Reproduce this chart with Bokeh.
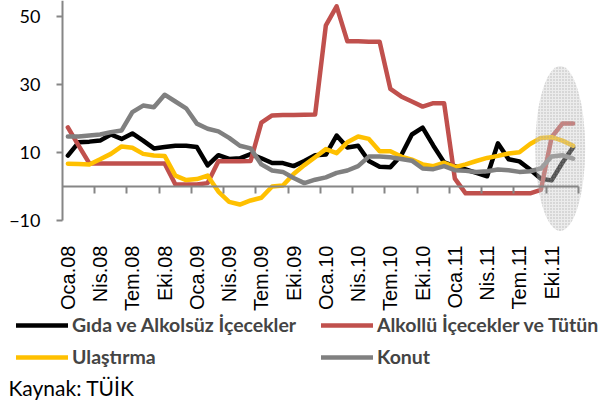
import math
from bokeh.plotting import figure
from bokeh.models import (Range1d, LinearAxis, FixedTicker, Legend, LegendItem,
                          Label, CustomJSTickFormatter)
from bokeh.embed import file_html
from bokeh.resources import INLINE

# ---- data -----------------------------------------------------------------
month_names = ["Oca", "Şub", "Mar", "Nis", "May", "Haz",
               "Tem", "Ağu", "Eyl", "Eki", "Kas", "Ara"]
years = ["08", "09", "10", "11"]
months = [f"{m}.{y}" for y in years for m in month_names]
tick_labels = ["Oca.08", "Nis.08", "Tem.08", "Eki.08", "Oca.09", "Nis.09",
               "Tem.09", "Eki.09", "Oca.10", "Nis.10", "Tem.10", "Eki.10",
               "Oca.11", "Nis.11", "Tem.11", "Eki.11"]

gida = [9.1, 13.0, 13.2, 13.5, 15.3, 14.0, 15.6, 13.5, 11.2, 11.6, 12.0, 12.0,
        11.6, 6.2, 9.2, 8.1, 8.3, 9.5, 8.3, 6.9, 6.9, 6.0, 7.5, 9.2,
        9.4, 15.0, 11.5, 12.0, 7.5, 5.8, 5.7, 9.1, 15.3, 17.3, 12.0, 7.1,
        6.0, 5.0, 4.0, 3.0, 12.7, 8.0, 7.4, 5.0, 2.3, 1.8, 7.0, 11.5]
alkol = [17.4, 12.0, 6.8, 6.8, 6.8, 6.8, 6.8, 6.8, 6.8, 6.8, 0.6, 0.6,
         0.6, 1.0, 7.4, 7.4, 7.4, 7.5, 18.8, 20.9, 21.0, 21.0, 21.1, 21.2,
         47.4, 53.0, 42.7, 42.7, 42.6, 42.6, 28.7, 26.5, 25.0, 23.5, 24.5, 24.5,
         2.3, -2.0, -2.0, -2.0, -2.0, -2.0, -2.0, -2.0, -1.0, 14.5, 18.5, 18.5]
ulastirma = [6.7, 6.6, 6.5, 8.0, 9.6, 11.8, 11.4, 9.6, 9.1, 9.0, 3.2, 1.9,
             2.2, 3.2, -1.5, -4.5, -5.3, -4.1, -3.3, 0.0, 0.3, 3.7, 6.3, 8.6,
             11.0, 9.8, 13.0, 14.7, 14.0, 10.4, 10.4, 8.8, 7.9, 6.5, 6.0, 7.0,
             5.7, 6.5, 7.5, 8.4, 9.0, 9.7, 10.1, 12.5, 14.3, 14.5, 13.5, 12.0]
konut = [14.7, 14.7, 15.0, 15.3, 16.0, 16.5, 21.9, 23.8, 23.3, 27.0, 25.0, 23.0,
         18.5, 17.0, 16.2, 14.3, 12.0, 11.2, 6.5, 4.7, 4.3, 2.5, 1.0, 2.0,
         2.7, 4.0, 4.7, 6.0, 8.8, 8.8, 8.6, 8.1, 7.6, 5.3, 5.1, 6.0,
         4.8, 4.6, 4.3, 4.5, 5.0, 4.8, 4.3, 4.5, 5.3, 8.8, 9.2, 8.2]

series_names = ["Gıda ve Alkolsüz İçecekler", "Alkollü İçecekler ve Tütün",
                "Ulaştırma", "Konut"]
series_colors = ["#000000", "#C0504D", "#FFC000", "#808080"]
y_ticks = [-10, 10, 30, 50]
y_min, y_top = -10, 54.71

# highlighted last months (ellipse)
highlight_month = 45.8
highlight_value = 11.2
highlight_months_wide = 4.65
highlight_value_tall = 48.5

source_note = "Kaynak: TÜİK"

# ---- figure ---------------------------------------------------------------
n = len(months)
x = list(range(n))
label_pos = [months.index(t) for t in tick_labels]

# the frame covers the whole canvas; axes are placed at fixed locations
p = figure(width=603, height=408, output_backend="svg", toolbar_location=None,
           x_range=Range1d(-6.267, 49.826), y_range=Range1d(-65.29, y_top),
           x_axis_location=None, y_axis_location=None,
           min_border_left=0, min_border_right=0, min_border_top=0,
           min_border_bottom=0, outline_line_color=None,
           background_fill_color="white", border_fill_color="white")
p.grid.visible = False

lines = []
for vals, col in zip([gida, alkol, ulastirma, konut], series_colors):
    r = p.line(x, vals, line_color=col, line_width=4.5, line_join="round",
               line_cap="round")
    lines.append(r)

p.ellipse(x=[highlight_month], y=[highlight_value], width=[highlight_months_wide],
          height=[highlight_value_tall], fill_color="#cfcfcf", fill_alpha=0.4,
          line_color=None, hatch_pattern="dot", hatch_color="#8f8f8f",
          hatch_alpha=0.6, hatch_scale=3, hatch_weight=1)

blank = CustomJSTickFormatter(code="return ''")

# y axis at the left edge of the category area
ya = LinearAxis(fixed_location=-0.5, ticker=FixedTicker(ticks=y_ticks),
                bounds=(y_min, y_top),
                axis_line_color="#868686", axis_line_width=2,
                major_tick_line_color="#868686", major_tick_line_width=2,
                major_tick_out=6, major_tick_in=0, minor_tick_line_color=None,
                major_label_standoff=16, major_label_text_font="Lato",
                major_label_text_font_size="18px",
                major_label_text_color="#000000")
p.add_layout(ya, "left")

# zero line with boundary ticks every 3 months
boundaries = [i - 0.5 for i in range(3, n + 1, 3)]
za = LinearAxis(fixed_location=0, ticker=FixedTicker(ticks=boundaries),
                bounds=(-0.5, n - 0.5), formatter=blank,
                axis_line_color="#868686", axis_line_width=2,
                major_tick_line_color="#868686", major_tick_line_width=2,
                major_tick_out=7, major_tick_in=0, minor_tick_line_color=None)
p.add_layout(za, "below")

# category labels below the plot area
xa = LinearAxis(fixed_location=y_min, ticker=FixedTicker(ticks=label_pos),
                major_label_overrides={i: months[i] for i in label_pos},
                major_label_orientation=math.pi / 2,
                axis_line_color=None, major_tick_line_color=None,
                minor_tick_line_color=None, major_tick_out=0, major_tick_in=0,
                major_label_standoff=25, major_label_text_font="Liberation Sans",
                major_label_text_font_size="20px",
                major_label_text_color="#000000")
p.add_layout(xa, "below")

items = [LegendItem(label=nm, renderers=[r]) for nm, r in zip(series_names, lines)]
legend = Legend(items=items, orientation="horizontal", ncols=2,
                location=(16, 40), glyph_width=52, glyph_height=20,
                label_standoff=4, spacing=9, padding=0, margin=0,
                label_width=240,
                label_text_font="Lato", label_text_font_style="bold",
                label_text_font_size="19.5px", label_height=20,
                border_line_alpha=0, background_fill_alpha=0)
p.add_layout(legend)

note = Label(x=8, y=21, x_units="screen", y_units="screen", text=source_note,
             text_font="Lato", text_font_size="21px", text_baseline="middle",
             text_color="#000000")
p.add_layout(note)

open("out.html", "w").write(file_html(p, INLINE))
